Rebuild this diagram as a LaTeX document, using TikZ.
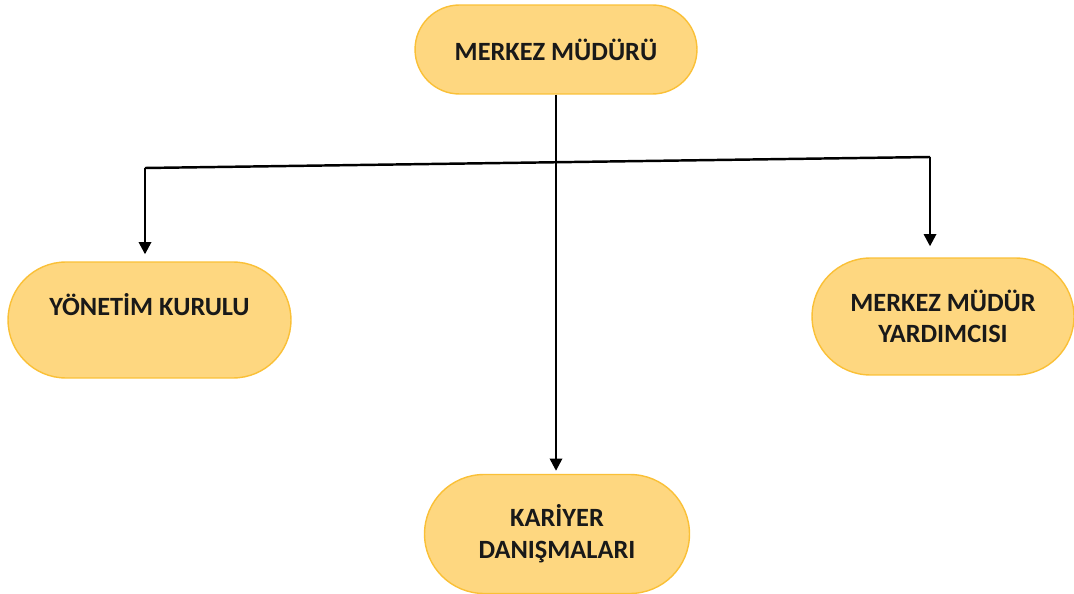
\documentclass[tikz,border=0pt]{standalone}
\usepackage{fontspec}
\setmainfont{Carlito}
\usetikzlibrary{shapes.misc,arrows.meta}
\definecolor{boxfill}{RGB}{254,215,128}
\definecolor{boxline}{RGB}{250,192,55}
\definecolor{txt}{RGB}{25,25,25}
\tikzset{unit/.style={rounded rectangle,draw=boxline,fill=boxfill,line width=0.8pt,
		align=center,text=txt,inner sep=0pt,
		font=\bfseries\fontsize{15}{18}\selectfont},
	link/.style={line width=1.4pt},
	arr/.style={link,-{Triangle[width=7pt,length=7pt]}}
	}

\begin{document}
\begin{tikzpicture}[x=0.02cm,y=-0.02cm] % pixel units
	\useasboundingbox (0,0) rectangle (1074,594);
	\node[unit,minimum width=5.64cm,minimum height=1.78cm] (mm) at (556,49.5) {MERKEZ MÜDÜRÜ};
	\node[unit,minimum width=5.66cm,minimum height=2.32cm] (yk) at (149.5,320) {YÖNETİM KURULU\\\mbox{}};
	\node[unit,minimum width=5.24cm,minimum height=2.34cm] (my) at (943,316.5) {MERKEZ MÜDÜR\\YARDIMCISI};
	\node[unit,minimum width=5.30cm,minimum height=2.38cm] (kd) at (557,534) {KARİYER\\DANIŞMALARI};
	\coordinate (lc) at (145,168);
	\coordinate (rc) at (930,157);
	\draw[link] (lc) -- (rc);
	\draw[arr,shorten >=0.14cm] (lc) -- (lc |- yk.north);
	\draw[arr,shorten >=0.22cm] (rc) -- (rc |- my.north);
	\draw[arr,shorten >=0.06cm] (mm.south) -- (mm.south |- kd.north);
\end{tikzpicture}
\end{document}
